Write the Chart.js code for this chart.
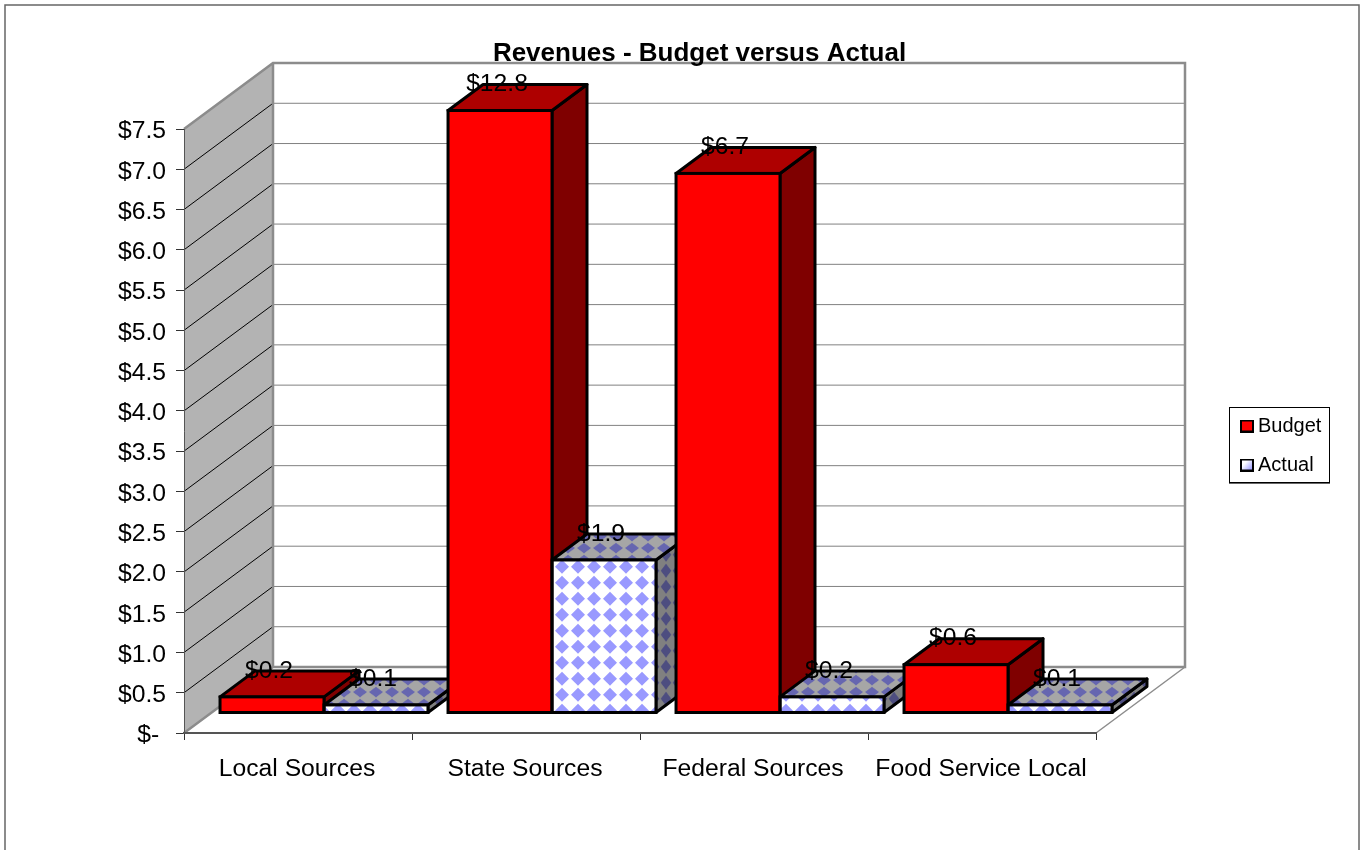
<!DOCTYPE html>
<html>
<head>
<meta charset="utf-8">
<title>Revenues - Budget versus Actual</title>
<script src="https://cdn.jsdelivr.net/npm/chart.js@4/dist/chart.umd.min.js"></script>
<style>
    html, body { margin: 0; padding: 0; background: #fff; overflow: hidden; }
    canvas { display: block; }
</style>
</head>
<body>
<canvas id="myChart" width="1361" height="850"></canvas>
<script>
// Datos
const categories = ['Local Sources', 'State Sources', 'Federal Sources', 'Food Service Local'];
const budgetValues = [0.2, 12.8, 6.7, 0.6];
const actualValues = [0.1, 1.9, 0.2, 0.1];

// Profundidad del efecto 3D, en pixeles
const WALL_DEPTH = { x: 89, y: -66 };
const BAR_SHIFT = { x: 26, y: -20 };
const BAR_DEPTH = { x: 35, y: -26 };

const FONT_FAMILY = '"Liberation Sans", Arial, sans-serif';
const WALL_GRAY = '#8c8c8c';

Chart.defaults.font.family = FONT_FAMILY;
Chart.defaults.color = '#000';

// Trama de rombos, se repite cada 16px
function diamondPattern(background, diamond, scaleX, scaleY) {
    const tile = document.createElement('canvas');
    tile.width = 16;
    tile.height = 16;
    const c = tile.getContext('2d');
    c.fillStyle = background;
    c.fillRect(0, 0, 16, 16);
    c.fillStyle = diamond;
    [-16, 0, 16].forEach(off => {
        const cy = 10.7 + off;
        c.beginPath();
        c.moveTo(8, cy - 7);
        c.lineTo(15, cy);
        c.lineTo(8, cy + 7);
        c.lineTo(1, cy);
        c.closePath();
        c.fill();
    });
    const pattern = c.createPattern(tile, 'repeat');
    pattern.setTransform(new DOMMatrix([scaleX, 0, 0, scaleY, 0, 0]));
    return pattern;
}

// Muestra de la leyenda
function legendSwatch(fill) {
    const box = document.createElement('canvas');
    box.width = 14;
    box.height = 13;
    const c = box.getContext('2d');
    if (fill === 'actual') {
        const g = c.createLinearGradient(2, 2, 12, 11);
        g.addColorStop(0.3, '#ffffff');
        g.addColorStop(1, '#9999ff');
        c.fillStyle = g;
    } else {
        c.fillStyle = fill;
    }
    c.fillRect(0, 0, 14, 13);
    c.strokeStyle = '#000';
    c.lineWidth = 2;
    c.strokeRect(1, 1, 12, 11);
    return box;
}

const actualFront = diamondPattern('#ffffff', '#9999ff', 1, 1);
const actualTop = diamondPattern('#a6a6a6', '#6666b0', 1, 0.75);
const actualSide = diamondPattern('#808080', '#4d4d80', 0.75, 1);

const faceFills = [
    { top: '#ae0000', side: '#7f0000' },
    { top: actualTop, side: actualSide }
];
const swatches = [legendSwatch('#ff0000'), legendSwatch('actual')];

function polygon(ctx, pts, fill, stroke, width) {
    ctx.beginPath();
    pts.forEach((p, i) => (i ? ctx.lineTo(p[0], p[1]) : ctx.moveTo(p[0], p[1])));
    ctx.closePath();
    if (fill) {
        ctx.fillStyle = fill;
        ctx.fill();
    }
    if (stroke) {
        ctx.strokeStyle = stroke;
        ctx.lineWidth = width;
        ctx.stroke();
    }
}

// Rectangulo frontal de una barra, recortado al tope del eje
function barBox(chart, el) {
    return {
        left: el.x - el.width / 2 + BAR_SHIFT.x,
        right: el.x + el.width / 2 + BAR_SHIFT.x,
        top: Math.max(el.y, chart.chartArea.top + 1.5) + BAR_SHIFT.y,
        bottom: el.base + BAR_SHIFT.y
    };
}

const chart3d = {
    id: 'chart3d',

    afterLayout(chart) {
        // Titulo y leyenda van fuera de la rejilla normal
        chart.titleBlock.left = 38;
        chart.titleBlock.right = 1361;
        chart.legend.left = 1227;
        chart.legend.right = 1329;
        chart.legend.top = 397;
        chart.legend.bottom = 850;
    },

    // Marco exterior, paredes, suelo y rejilla
    beforeDraw(chart) {
        const { ctx, chartArea: a, scales } = chart;
        const bx = a.left + WALL_DEPTH.x, ex = a.right + WALL_DEPTH.x;
        const ty = a.top + WALL_DEPTH.y, by = a.bottom + WALL_DEPTH.y;
        ctx.save();
        ctx.strokeStyle = '#666';
        ctx.lineWidth = 1.5;
        ctx.strokeRect(5, 5, 1354, 900);

        polygon(ctx, [[a.left, a.top], [bx, ty], [bx, by], [a.left, a.bottom]], '#b3b3b3');

        scales.y.ticks.forEach((t, i) => {
            const y = scales.y.getPixelForTick(i);
            ctx.beginPath();
            ctx.moveTo(a.left, y);
            ctx.lineTo(bx, y + WALL_DEPTH.y);
            ctx.strokeStyle = '#000';
            ctx.lineWidth = 1;
            ctx.stroke();
            ctx.beginPath();
            ctx.moveTo(bx, y + WALL_DEPTH.y);
            ctx.lineTo(ex, y + WALL_DEPTH.y);
            ctx.strokeStyle = '#808080';
            ctx.stroke();
        });

        ctx.strokeStyle = WALL_GRAY;
        ctx.lineWidth = 2.5;
        ctx.beginPath();
        ctx.moveTo(a.left, a.top);
        ctx.lineTo(bx, ty);
        ctx.lineTo(ex, ty);
        ctx.lineTo(ex, by);
        ctx.lineTo(bx, by);
        ctx.lineTo(bx, ty);
        ctx.moveTo(bx, by);
        ctx.lineTo(a.left, a.bottom);
        ctx.stroke();
        ctx.lineWidth = 1.5;
        ctx.beginPath();
        ctx.moveTo(ex, by);
        ctx.lineTo(a.right, a.bottom);
        ctx.stroke();

        // Recuadro de la leyenda
        ctx.strokeStyle = '#000';
        ctx.lineWidth = 1;
        ctx.strokeRect(1229.5, 407.5, 100, 75);
        ctx.strokeStyle = '#666';
        ctx.lineWidth = 1;
        ctx.beginPath();
        ctx.moveTo(1229, 483.5);
        ctx.lineTo(1330, 483.5);
        ctx.stroke();
        ctx.restore();
    },

    // Caras superior y lateral; las frontales las pinta Chart.js desplazadas
    beforeDatasetsDraw(chart) {
        const ctx = chart.ctx;
        ctx.save();
        ctx.lineJoin = 'round';
        categories.forEach((_, j) => {
            chart.data.datasets.forEach((_ds, i) => {
                const b = barBox(chart, chart.getDatasetMeta(i).data[j]);
                const dx = BAR_DEPTH.x, dy = BAR_DEPTH.y;
                polygon(ctx, [[b.right, b.top], [b.right + dx, b.top + dy], [b.right + dx, b.bottom + dy], [b.right, b.bottom]], faceFills[i].side, '#000', 3);
                polygon(ctx, [[b.left, b.top], [b.right, b.top], [b.right + dx, b.top + dy], [b.left + dx, b.top + dy]], faceFills[i].top, '#000', 3);
            });
        });
        ctx.restore();
        ctx.save();
        ctx.translate(BAR_SHIFT.x, BAR_SHIFT.y);
    },

    afterDatasetsDraw(chart) {
        const ctx = chart.ctx;
        ctx.restore();
        ctx.save();

        // Contorno frontal
        chart.data.datasets.forEach((_ds, i) => {
            chart.getDatasetMeta(i).data.forEach(el => {
                const b = barBox(chart, el);
                ctx.strokeStyle = '#000';
                ctx.lineWidth = 3;
                ctx.strokeRect(b.left, b.top, b.right - b.left, b.bottom - b.top);
            });
        });

        // Etiquetas de valor
        ctx.fillStyle = '#000';
        ctx.font = '24.7px ' + FONT_FAMILY;
        ctx.textAlign = 'center';
        ctx.textBaseline = 'middle';
        chart.data.datasets.forEach((ds, i) => {
            chart.getDatasetMeta(i).data.forEach((el, j) => {
                const b = barBox(chart, el);
                ctx.fillText('$' + ds.data[j].toFixed(1), (b.left + b.right) / 2 - 3, b.top - 26);
            });
        });
        ctx.restore();
    }
};

const ctx = document.getElementById('myChart').getContext('2d');
const myChart = new Chart(ctx, {
    type: 'bar',
    data: {
        labels: categories,
        datasets: [
            {
                label: 'Budget',
                data: budgetValues,
                backgroundColor: '#ff0000',
                borderWidth: 0,
                categoryPercentage: 0.912,
                barPercentage: 1
            },
            {
                label: 'Actual',
                data: actualValues,
                backgroundColor: actualFront,
                borderWidth: 0,
                categoryPercentage: 0.912,
                barPercentage: 1
            }
        ]
    },
    options: {
        responsive: false,
        animation: false,
        layout: { padding: { left: 0, top: 0, right: 265, bottom: 0 } },
        plugins: {
            title: {
                display: true,
                text: 'Revenues - Budget versus Actual',
                font: { size: 26, weight: 'bold' },
                color: '#000',
                padding: { top: 38.4, bottom: 59.4 }
            },
            legend: {
                position: 'chartArea',
                align: 'start',
                labels: {
                    usePointStyle: true,
                    pointStyleWidth: 2,
                    padding: 19,
                    font: { size: 20 },
                    color: '#000',
                    generateLabels(chart) {
                        const items = Chart.defaults.plugins.legend.labels.generateLabels(chart);
                        items.forEach((item, i) => { item.pointStyle = swatches[i]; });
                        return items;
                    }
                }
            },
            tooltip: { enabled: false }
        },
        scales: {
            x: {
                afterFit(scale) { scale.height = 117; },
                border: { display: true, color: '#555', width: 2 },
                grid: { offset: true, drawOnChartArea: false, drawTicks: true, tickLength: 7, tickColor: '#333' },
                ticks: {
                    padding: 14,
                    labelOffset: -1,
                    maxRotation: 0,
                    autoSkip: false,
                    color: '#000',
                    font: { size: 24.7 }
                }
            },
            y: {
                min: 0,
                max: 7.5,
                afterFit(scale) { scale.width = 184; },
                border: { display: true, color: '#555', width: 1 },
                grid: { drawOnChartArea: false, drawTicks: true, tickLength: 8, tickColor: '#333' },
                ticks: {
                    stepSize: 0.5,
                    padding: 10,
                    labelOffset: 2.5,
                    color: '#000',
                    font: { size: 24.7 },
                    callback: v => (v === 0 ? '$- ' : '$' + v.toFixed(1))
                }
            }
        }
    },
    plugins: [chart3d]
});
</script>
</body>
</html>
